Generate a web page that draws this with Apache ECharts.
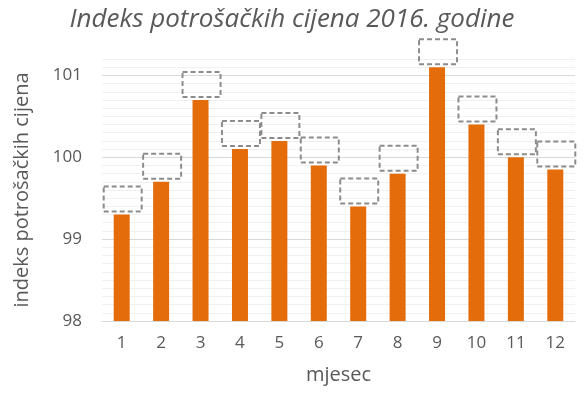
<!DOCTYPE html>
<html>
<head>
<meta charset="utf-8">
<script src="https://cdn.jsdelivr.net/npm/echarts@6/dist/echarts.min.js"></script>
<style>
  html, body { margin: 0; padding: 0; background: #fff; }
  #chart { width: 584px; height: 399px; }
</style>
</head>
<body>
<div id="chart"></div>
<script>
// podaci
var months = ['1', '2', '3', '4', '5', '6', '7', '8', '9', '10', '11', '12'];
var indexValues = [99.3, 99.7, 100.7, 100.1, 100.2, 99.9, 99.4, 99.8, 101.1, 100.4, 100.0, 99.85];
var yMin = 98;
var yMax = 101.2;

// glavna linija svakih 1.0, sporedne svakih 0.1
var gridColors = ['#d9d9d9'];
for (var i = 1; i < 10; i++) gridColors.push('#f0f0f0');

var chart = echarts.init(document.getElementById('chart'));

var option = {
  animation: false,
  title: {
    text: 'Indeks potrošačkih cijena 2016. godine',
    left: 'center',
    top: 2,
    textStyle: {
      fontFamily: 'Open Sans',
      fontStyle: 'italic',
      fontWeight: 'normal',
      fontSize: 26,
      color: '#595959'
    }
  },
  grid: {
    left: 102,
    right: 9,
    top: 59,
    bottom: 78
  },
  xAxis: {
    type: 'category',
    data: months,
    name: 'mjesec',
    nameLocation: 'middle',
    nameGap: 44,
    nameTextStyle: { fontFamily: 'Open Sans', fontSize: 20, color: '#595959' },
    axisLine: { lineStyle: { color: '#d9d9d9' } },
    axisTick: { show: false },
    axisLabel: { fontFamily: 'Open Sans', fontSize: 17, color: '#595959', margin: 14 }
  },
  yAxis: {
    type: 'value',
    min: yMin,
    max: yMax,
    interval: 0.1,
    name: 'indeks potrošačkih cijena',
    nameLocation: 'middle',
    nameGap: 70,
    nameTextStyle: { fontFamily: 'Open Sans', fontSize: 20, color: '#595959' },
    axisLine: { show: false },
    axisTick: { show: false },
    axisLabel: {
      fontFamily: 'Open Sans',
      fontSize: 17,
      color: '#595959',
      margin: 20,
      showMaxLabel: false,
      formatter: function (v) {
        return Math.abs(v - Math.round(v)) < 1e-6 ? String(Math.round(v)) : '';
      }
    },
    splitLine: { lineStyle: { color: gridColors, width: 1 } }
  },
  series: [{
    type: 'bar',
    data: indexValues,
    barWidth: 16,
    itemStyle: { color: '#e46c0a' },
    label: {
      show: true,
      position: 'top',
      distance: 3,
      offset: [1, 0],
      formatter: ' ',
      width: 38,
      height: 25,
      borderColor: '#8c8c8c',
      borderWidth: 2,
      borderType: [5, 3]
    }
  }]
};

chart.setOption(option);
</script>
</body>
</html>
